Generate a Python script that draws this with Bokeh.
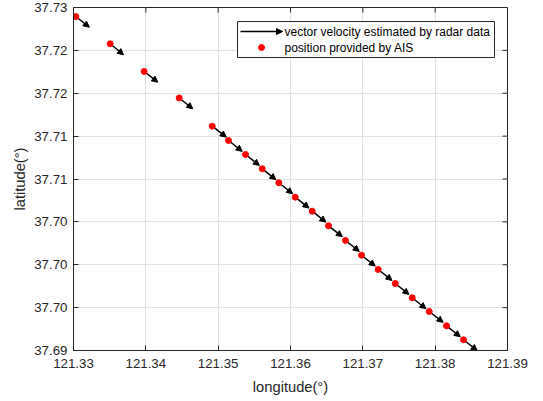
from bokeh.plotting import figure
from bokeh.models import (Range1d, FixedTicker, Arrow, NormalHead, BoxAnnotation,
                          Label, ColumnDataSource)
from bokeh.embed import file_html
from bokeh.resources import INLINE

# AIS positions (degrees)
lon = [121.33032, 121.33507, 121.33977, 121.34461, 121.34918, 121.35143, 121.35378,
       121.35609, 121.35838, 121.36065, 121.36300, 121.36525, 121.36760, 121.36982,
       121.37212, 121.37448, 121.37683, 121.37918, 121.38157, 121.38392]
lat = [37.72895, 37.72577, 37.72254, 37.71945, 37.71616, 37.71449, 37.71286,
       37.71119, 37.70956, 37.70788, 37.70625, 37.70454, 37.70283, 37.70111,
       37.69945, 37.69781, 37.69615, 37.69455, 37.69288, 37.69125]

# radar velocity vectors (plot units, degrees per arrow)
vel_u = [0.00187, 0.00185, 0.00189, 0.00188, 0.00195, 0.00190, 0.00192, 0.00190, 0.00192, 0.00191,
         0.00190, 0.00192, 0.00191, 0.00190, 0.00192, 0.00191, 0.00190, 0.00192, 0.00191, 0.00190]
vel_v = [-0.00125, -0.00128, -0.00125, -0.00126, -0.00128, -0.00127, -0.00128, -0.00127, -0.00128, -0.00127,
         -0.00128, -0.00127, -0.00128, -0.00127, -0.00128, -0.00127, -0.00128, -0.00127, -0.00128, -0.00127]

x_ticks = [121.33, 121.34, 121.35, 121.36, 121.37, 121.38, 121.39]
x_tick_labels = ["121.33", "121.34", "121.35", "121.36", "121.37", "121.38", "121.39"]
y_ticks = [37.69, 37.695, 37.70, 37.705, 37.71, 37.715, 37.72, 37.725, 37.73]
y_tick_labels = ["37.69", "37.70", "37.70", "37.70", "37.71", "37.71", "37.72", "37.72", "37.73"]

legend_labels = ["vector velocity estimated by radar data", "position provided by AIS"]

X_MIN, X_MAX = 121.33, 121.39
Y_MIN, Y_MAX = 37.69, 37.73

FONT = "Liberation Sans"
AXIS_COLOR = "#262626"
BORDER_L, BORDER_R, BORDER_T, BORDER_B = 73, 36, 7, 51
W, H = 543, 401
FRAME_W, FRAME_H = W - BORDER_L - BORDER_R, H - BORDER_T - BORDER_B
TICK_LEN = 5

p = figure(frame_width=FRAME_W, frame_height=FRAME_H, output_backend="svg", toolbar_location=None,
           x_range=Range1d(X_MIN, X_MAX), y_range=Range1d(Y_MIN, Y_MAX),
           min_border_left=BORDER_L, min_border_right=BORDER_R,
           min_border_top=BORDER_T, min_border_bottom=BORDER_B,
           background_fill_color="white", border_fill_color="white")

p.outline_line_color = AXIS_COLOR
p.outline_line_width = 1
p.outline_line_alpha = 1

for ax in (p.xaxis[0], p.yaxis[0]):
    ax.major_tick_in = TICK_LEN
    ax.major_tick_out = 0
    ax.minor_tick_line_color = None
    ax.axis_line_color = AXIS_COLOR
    ax.major_tick_line_color = AXIS_COLOR
    ax.major_label_text_font = FONT
    ax.major_label_text_font_size = "13.3px"
    ax.major_label_text_color = AXIS_COLOR
    ax.axis_label_text_font = FONT
    ax.axis_label_text_font_size = "14.7px"
    ax.axis_label_text_font_style = "normal"
    ax.axis_label_text_color = AXIS_COLOR
    ax.major_label_standoff = 6

p.xaxis[0].ticker = FixedTicker(ticks=x_ticks)
p.xaxis[0].major_label_overrides = dict(zip(x_ticks, x_tick_labels))
p.xaxis[0].axis_label = "longitude(°)"
p.xaxis[0].axis_label_standoff = 8
p.xaxis[0].major_label_standoff = 8
p.yaxis[0].ticker = FixedTicker(ticks=y_ticks)
p.yaxis[0].major_label_overrides = dict(zip(y_ticks, y_tick_labels))
p.yaxis[0].axis_label = "latitude(°)"
p.yaxis[0].major_label_orientation = "horizontal"
p.yaxis[0].axis_label_standoff = 3

p.grid.grid_line_color = "#e0e0e0"
p.grid.grid_line_width = 1
p.xgrid.ticker = FixedTicker(ticks=x_ticks)
p.ygrid.ticker = FixedTicker(ticks=y_ticks)

# conversion between frame pixels and data units
dx_px = (X_MAX - X_MIN) / FRAME_W
dy_px = (Y_MAX - Y_MIN) / FRAME_H


def fx(px):
    return X_MIN + px * dx_px


def fy(px):
    return Y_MIN + px * dy_px


# inward tick marks along the top and right edges of the box
p.segment(x0=x_ticks, x1=x_ticks, y0=[Y_MAX] * len(x_ticks),
          y1=[Y_MAX - TICK_LEN * dy_px] * len(x_ticks), line_color=AXIS_COLOR, line_width=1)
p.segment(x0=[X_MAX] * len(y_ticks), x1=[X_MAX - TICK_LEN * dx_px] * len(y_ticks),
          y0=y_ticks, y1=y_ticks, line_color=AXIS_COLOR, line_width=1)

# ---- legend box (drawn under the glyphs, above the grid), frame-pixel layout
LEG_L, LEG_R, LEG_B, LEG_T = 164, 421, 293, 329
ROW1, ROW2 = 319, 303
GLYPH_L, GLYPH_R, TEXT_X = 167, 209, 211
p.add_layout(BoxAnnotation(left=fx(LEG_L), right=fx(LEG_R), bottom=fy(LEG_B), top=fy(LEG_T),
                           fill_color="white", fill_alpha=1, line_color=AXIS_COLOR,
                           line_width=1, line_alpha=1, level="underlay"))

src = ColumnDataSource(dict(
    x0=lon, y0=lat,
    x1=[a + b for a, b in zip(lon, vel_u)],
    y1=[a + b for a, b in zip(lat, vel_v)],
))

# radar velocity arrows
p.add_layout(Arrow(end=NormalHead(size=6, fill_color="black", line_color="black", line_width=1),
                   x_start="x0", y_start="y0", x_end="x1", y_end="y1", source=src,
                   line_color="black", line_width=1.5, level="underlay"))

# AIS positions
p.scatter(x="x0", y="y0", source=src, size=6, marker="circle",
          fill_color="#ff0000", line_color="#ff0000")

# legend swatches and labels
leg_arrow_src = ColumnDataSource(dict(xs=[fx(GLYPH_L)], xe=[fx(GLYPH_R)], ys=[fy(ROW1)], ye=[fy(ROW1)]))
p.add_layout(Arrow(end=NormalHead(size=6, fill_color="black", line_color="black", line_width=1),
                   x_start="xs", y_start="ys", x_end="xe", y_end="ye", source=leg_arrow_src,
                   line_color="black", line_width=1.5))
p.scatter(x=[fx((GLYPH_L + GLYPH_R) / 2)], y=[fy(ROW2)], size=6, marker="circle",
          fill_color="#ff0000", line_color="#ff0000")
for text, row in zip(legend_labels, (ROW1, ROW2)):
    p.add_layout(Label(x=fx(TEXT_X), y=fy(row), text=text, text_baseline="middle",
                       text_align="left", text_font=FONT, text_font_size="12px",
                       text_color="black"))

open("out.html", "w").write(file_html(p, INLINE))
